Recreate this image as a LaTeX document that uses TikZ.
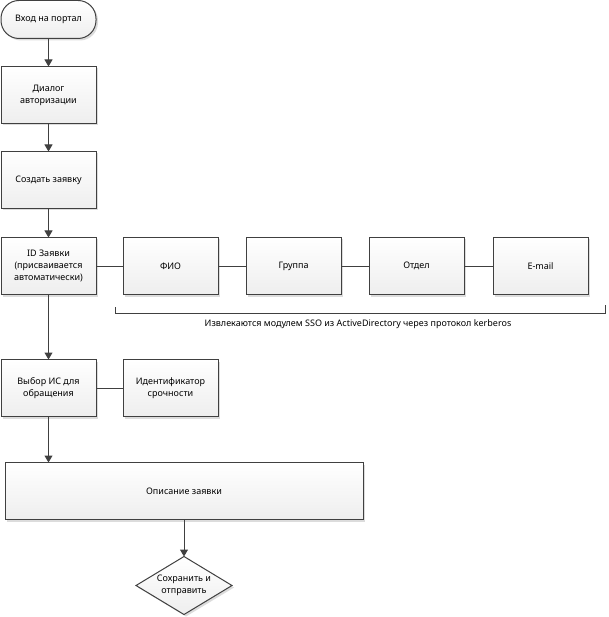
\documentclass[tikz,border=0pt]{standalone}
\usepackage{fontspec}
\setmainfont{Noto Sans}
\usepackage{xcolor}
\usepackage{tikz}
\usetikzlibrary{arrows.meta,positioning,shapes.geometric,shadows}

\definecolor{edge}{HTML}{404040}
\definecolor{boxbot}{HTML}{EEEEEE}
\definecolor{shade}{HTML}{DCDCDC}

\begin{document}
\begin{tikzpicture}[
  x=1pt, y=-1pt,
  node distance=28pt,
  stage/.style={draw=edge, line width=1pt, outer sep=0pt,
    top color=white, bottom color=boxbot,
    minimum width=95pt, minimum height=57pt, align=center, inner sep=2pt,
    font=\fontsize{9}{12}\selectfont,
    drop shadow={shadow xshift=2pt, shadow yshift=-2pt, fill=shade, opacity=1}},
  term/.style={stage, rounded corners=18pt, minimum height=38pt},
  decide/.style={stage, diamond, aspect=1.65, inner sep=0pt,
    minimum width=96pt, minimum height=58pt},
  arr/.style={-{Triangle[length=7pt, width=8pt]}, line width=1pt, draw=edge},
  link/.style={line width=1pt, draw=edge}
]
  \useasboundingbox (0,0) rectangle (608,617);

  \node[term, anchor=north west] (login) at (1,0.5) {Вход на портал};
  \node[stage, below=of login] (auth) {Диалог\\авторизации};
  \node[stage, below=of auth] (create) {Создать заявку};
  \node[stage, below=29pt of create] (reqid) {ID Заявки\\(присваивается\\автоматически)};
  \node[stage, right=27pt of reqid] (fio) {ФИО};
  \node[stage, right=of fio] (group) {Группа};
  \node[stage, right=of group] (dept) {Отдел};
  \node[stage, right=29pt of dept] (email) {E-mail};

  \node[stage, below=65pt of reqid] (choose) {Выбор ИС для\\обращения};
  \node[stage, right=27pt of choose] (urgency) {Идентификатор\\срочности};
  \node[stage, anchor=north west, minimum width=358pt]
    (descr) at ([xshift=4pt, yshift=-46pt]choose.south west) {Описание заявки};
  \node[decide, below=37pt of descr] (save) {Сохранить и\\отправить};

  \draw[arr] (login) -- (auth);
  \draw[arr] (auth) -- (create);
  \draw[arr] (create) -- (reqid);
  \draw[arr] (reqid) -- (choose);
  \draw[arr] (choose) -- (choose |- descr.north);
  \draw[arr] (descr) -- (save);

  \draw[link] (reqid) -- (fio);
  \draw[link] (fio) -- (group);
  \draw[link] (group) -- (dept);
  \draw[link] (dept) -- (email);
  \draw[link] (choose) -- (urgency);

  \coordinate (brl) at (115,313);
  \coordinate (brr) at (605,313);
  \draw[edge, line width=0.8pt] ([yshift=6pt]brl) -- (brl) -- (brr) -- ([yshift=8pt]brr);
  \node[font=\fontsize{9}{12}\selectfont, below=3pt] (sso) at (358,313)
    {Извлекаются модулем SSO из ActiveDirectory через протокол kerberos};
\end{tikzpicture}
\end{document}
